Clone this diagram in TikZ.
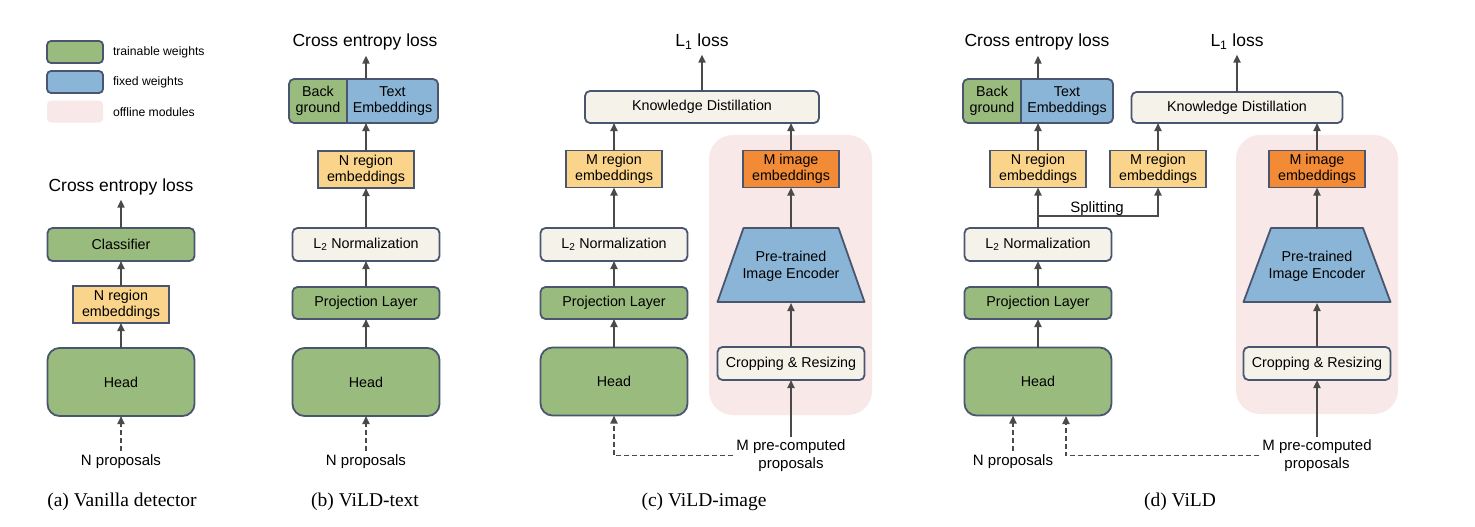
\documentclass[tikz,border=0pt]{standalone}
\usepackage{fontspec}
\setmainfont{Liberation Sans}
\newfontfamily\capfont{Liberation Serif}
\usetikzlibrary{arrows.meta}
\definecolor{cgreen}{HTML}{9ABB7E}
\definecolor{cblue}{HTML}{8AB5D6}
\definecolor{cyellow}{HTML}{F9D48A}
\definecolor{corange}{HTML}{F38A36}
\definecolor{ccream}{HTML}{F5F2EA}
\definecolor{cpink}{HTML}{F8E8E7}
\definecolor{cborder}{HTML}{4A5670}
\definecolor{carrow}{HTML}{4A4A4A}
\begin{document}
\begin{tikzpicture}[x=1pt,y=-1pt,
  every node/.style={inner sep=0pt, outer sep=0pt},
  box/.style={draw=cborder, line width=1.8pt, rounded corners=5pt, font=\fontsize{14.3}{16}\selectfont, align=center},
  trn/.style={box, fill=cgreen},
  crm/.style={box, fill=ccream},
  wide/.style={minimum width=147pt, minimum height=33pt},
  headbox/.style={trn, rounded corners=12pt, minimum width=147pt, minimum height=68pt},
  emb/.style={draw=cborder, line width=1.8pt, fill=cyellow, minimum width=96pt, minimum height=37pt, font=\fontsize{14.3}{16}\selectfont, align=center},
  offl/.style={fill=cpink, rounded corners=24pt},
  ttl/.style={font=\fontsize{17.5}{20}\selectfont, inner sep=5pt, anchor=base},
  lbl/.style={font=\fontsize{15}{18}\selectfont, inner sep=3pt, align=center},
  legtext/.style={font=\fontsize{12.2}{14}\selectfont, anchor=west},
  legbox/.style={rounded corners=4pt, minimum width=56pt, minimum height=22pt},
  captext/.style={font=\capfont\fontsize{19.5}{22}\selectfont},
  arr/.style={draw=carrow, line width=1.8pt, -{Triangle[length=8pt,width=7pt]}},
  dsh/.style={arr, dash pattern=on 5pt off 3pt},
  enc/.style={draw=cborder, fill=cblue, line width=1.8pt, line join=round},
  splitbox/.style={box, fill=cblue, minimum width=#1, minimum height=44pt,
    path picture={\fill[cgreen] (path picture bounding box.south west) rectangle ([xshift=58pt]path picture bounding box.north west);
      \draw[cborder, line width=1.8pt] ([xshift=58pt]path picture bounding box.south west) -- ([xshift=58pt]path picture bounding box.north west);}},
]
\fill[white] (0,0) rectangle (1475,527);
\useasboundingbox (0,0) rectangle (1475,527);

% ---------- legend ----------
\node[legbox, fill=cgreen, draw=cborder, line width=1.8pt] (lg1) at (75,52) {};
\node[legbox, fill=cblue, draw=cborder, line width=1.8pt] (lg2) at (75,82) {};
\node[legbox, fill=cpink] (lg3) at (75,111.5) {};
\node[legtext] (lt1) at (113,52) {trainable weights};
\node[legtext] (lt2) at (113,82) {fixed weights};
\node[legtext] (lt3) at (113,112) {offline modules};

% ---------- offline backgrounds ----------
\node[offl, minimum width=163pt, minimum height=280pt] (pkC) at (790.5,275) {};
\node[offl, minimum width=162pt, minimum height=279pt] (pkD) at (1317,274.5) {};

% ---------- (a) ----------
\node[ttl] (tA) at (121,191) {Cross entropy loss};
\node[trn, wide] (clsA) at (121,244.5) {Classifier};
\node[emb] (nrA) at (121,304.5) {N region\\embeddings};
\node[headbox] (hdA) at (121,382) {Head};
\node[lbl, anchor=base] (npA) at (121,465) {N proposals};
\draw[arr] (hdA.north) -- (nrA.south);
\draw[arr] (nrA.north) -- (clsA.south);
\draw[arr] (clsA.north) -- (clsA.north |- tA.south);
\draw[dsh] (npA.north) -- (hdA.south);

% ---------- (b) ----------
\node[ttl] (tB) at (365,47) {Cross entropy loss};
\node[splitbox=149pt] (btB) at (363.5,101) {};
\node[font=\fontsize{14.3}{16}\selectfont, align=center] (bgB) at (318,101) {Back\\ground};
\node[font=\fontsize{14.3}{16}\selectfont, align=center] (teB) at (392.5,101) {Text\\Embeddings};
\node[emb] (nrB) at (366,169.5) {N region\\embeddings};
\node[crm, wide] (l2B) at (366,244.5) {L\textsubscript{2} Normalization};
\node[trn, minimum width=147pt, minimum height=32pt] (pjB) at (366,303) {Projection Layer};
\node[headbox] (hdB) at (366,382) {Head};
\node[lbl, anchor=base] (npB) at (366,465) {N proposals};
\draw[arr] (hdB.north) -- (pjB.south);
\draw[arr] (pjB.north) -- (l2B.south);
\draw[arr] (l2B.north) -- (nrB.south);
\draw[arr] (nrB.north) -- (nrB.north |- btB.south);
\draw[arr] (btB.north -| nrB.north) -- (nrB.north |- tB.south);
\draw[dsh] (npB.north) -- (hdB.south);

% ---------- (c) ----------
\node[ttl] (tC) at (702,47) {L\textsubscript{1} loss};
\node[crm, minimum width=234pt, minimum height=32pt] (kdC) at (702,107) {Knowledge Distillation};
\node[emb] (mrC) at (614,169) {M region\\embeddings};
\node[emb, fill=corange] (miC) at (791,169) {M image\\embeddings};
\node[crm, wide] (l2C) at (614,244.5) {L\textsubscript{2} Normalization};
\node[trn, minimum width=147pt, minimum height=32pt] (pjC) at (614,303) {Projection Layer};
\node[headbox] (hdC) at (614,381.5) {Head};
\draw[enc] (743.5,228) -- (838.5,228) -- (864.5,302) -- (717.5,302) -- cycle;
\node[font=\fontsize{14.3}{17}\selectfont, align=center, minimum width=95pt, minimum height=74pt] (encC) at (791,266) {Pre-trained\\Image Encoder};
\node[crm, wide] (crC) at (791,363.5) {Cropping \& Resizing};
\node[lbl] (mpC) at (791,455.5) {M pre-computed\\proposals};
\draw[arr] (hdC.north) -- (pjC.south);
\draw[arr] (pjC.north) -- (l2C.south);
\draw[arr] (l2C.north) -- (mrC.south);
\draw[arr] (mrC.north) -- (mrC.north |- kdC.south);
\draw[arr] (miC.north) -- (miC.north |- kdC.south);
\draw[arr] (kdC.north) -- (tC.south);
\draw[arr] (mpC.north) -- (crC.south);
\draw[arr] (crC.north) -- (encC.south);
\draw[arr] (encC.north) -- (miC.south);
\draw[dsh] (mpC.west) -| (hdC.south);

% ---------- (d) ----------
\node[ttl] (tD1) at (1037,47) {Cross entropy loss};
\node[ttl] (tD2) at (1237,47) {L\textsubscript{1} loss};
\node[splitbox=150pt] (btD) at (1038,101) {};
\node[font=\fontsize{14.3}{16}\selectfont, align=center] (bgD) at (992,101) {Back\\ground};
\node[font=\fontsize{14.3}{16}\selectfont, align=center] (teD) at (1067,101) {Text\\Embeddings};
\node[crm, minimum width=211pt, minimum height=31pt] (kdD) at (1237,107.5) {Knowledge Distillation};
\node[emb] (nrD) at (1038,169) {N region\\embeddings};
\node[emb] (mrD) at (1158,169) {M region\\embeddings};
\node[emb, fill=corange] (miD) at (1317,169) {M image\\embeddings};
\node[crm, wide] (l2D) at (1038,244.5) {L\textsubscript{2} Normalization};
\node[trn, minimum width=147pt, minimum height=32pt] (pjD) at (1038,303) {Projection Layer};
\node[headbox] (hdD) at (1038,381.5) {Head};
\draw[enc] (1271,228) -- (1363,228) -- (1390.5,302) -- (1243.5,302) -- cycle;
\node[font=\fontsize{14.3}{17}\selectfont, align=center, minimum width=92pt, minimum height=74pt] (encD) at (1317,266) {Pre-trained\\Image Encoder};
\node[crm, wide] (crD) at (1317,363.5) {Cropping \& Resizing};
\node[lbl] (mpD) at (1317,455.5) {M pre-computed\\proposals};
\node[lbl, anchor=base] (npD) at (1013,465) {N proposals};
\coordinate (spl) at (1038,216);
\node[lbl, anchor=base] (splt) at (1097,212) {Splitting};
\draw[arr] (hdD.north) -- (pjD.south);
\draw[arr] (pjD.north) -- (l2D.south);
\draw[arr] (l2D.north) -- (nrD.south);
\draw[arr] (spl) -| (mrD.south);
\draw[arr] (nrD.north) -- (nrD.north |- btD.south);
\draw[arr] (btD.north -| nrD.north) -- (nrD.north |- tD1.south);
\draw[arr] (mrD.north) -- (mrD.north |- kdD.south);
\draw[arr] (miD.north) -- (miD.north |- kdD.south);
\draw[arr] (kdD.north) -- (tD2.south);
\draw[arr] (mpD.north) -- (crD.south);
\draw[arr] (crD.north) -- (encD.south);
\draw[arr] (encD.north) -- (miD.south);
\draw[dsh] (npD.north) -- (npD.north |- hdD.south);
\coordinate (hdDin) at (1066,416);
\draw[dsh] (mpD.west) -| (hdDin);

% ---------- captions ----------
\node[captext] (capA) at (122,502) {(a) Vanilla detector};
\node[captext] (capB) at (365,502) {(b) ViLD-text};
\node[captext] (capC) at (704,502) {(c) ViLD-image};
\node[captext] (capD) at (1180,502) {(d) ViLD};
\end{tikzpicture}
\end{document}
